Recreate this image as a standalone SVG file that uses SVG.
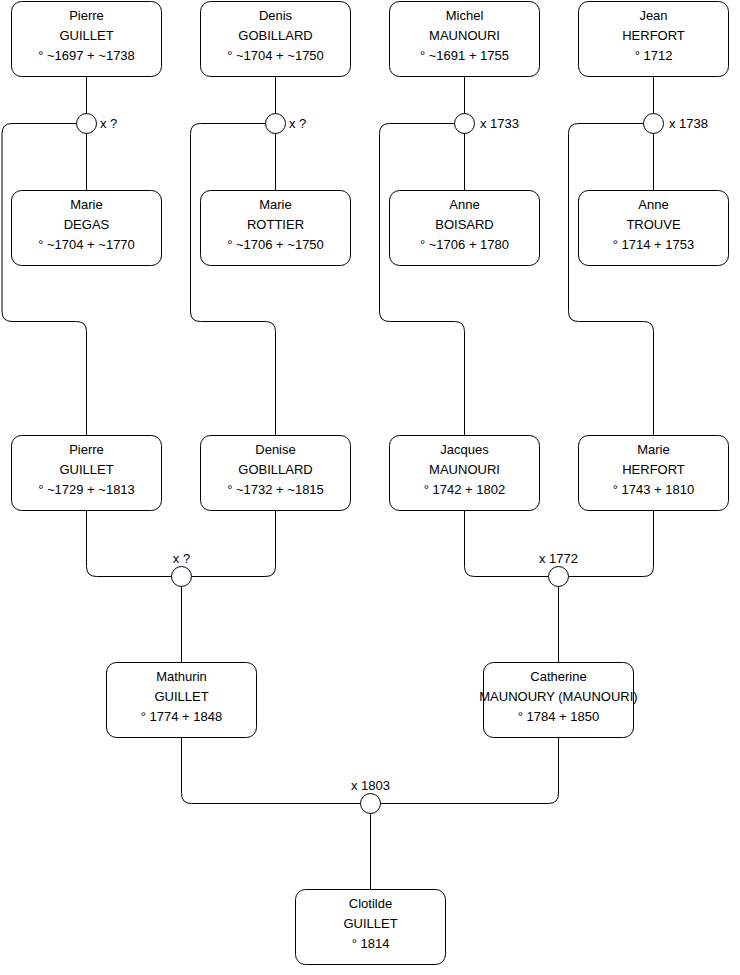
<svg xmlns="http://www.w3.org/2000/svg" width="740" height="975" viewBox="0 0 740 975">
<style>
.n{fill:#fff;stroke:#000;stroke-width:1}
.t{font-family:"Liberation Sans",Arial,sans-serif;font-size:13px;fill:#000;text-anchor:middle}
.l{font-family:"Liberation Sans",Arial,sans-serif;font-size:13px;fill:#000}
.c{fill:none;stroke:#000;stroke-width:1}
.m{fill:#fff;stroke:#000;stroke-width:1}
</style>
<rect width="740" height="975" fill="#fff"/>
<g id="connectors">
<path class="c" d="M86.5,76.5V113.5M86.5,133.5V190.5"/>
<path class="c" d="M76.5,123.5H12Q2,123.5 2,133.5V311.5Q2,321.5 12,321.5H76.5Q86.5,321.5 86.5,331.5V435.5"/>
<path class="c" d="M275.5,76.5V113.5M275.5,133.5V190.5"/>
<path class="c" d="M265.5,123.5H200.5Q190.5,123.5 190.5,133.5V311.5Q190.5,321.5 200.5,321.5H265.5Q275.5,321.5 275.5,331.5V435.5"/>
<path class="c" d="M464.5,76.5V113.5M464.5,133.5V190.5"/>
<path class="c" d="M454.5,123.5H389.5Q379.5,123.5 379.5,133.5V311.5Q379.5,321.5 389.5,321.5H454.5Q464.5,321.5 464.5,331.5V435.5"/>
<path class="c" d="M653.5,76.5V113.5M653.5,133.5V190.5"/>
<path class="c" d="M643.5,123.5H578.5Q568.5,123.5 568.5,133.5V311.5Q568.5,321.5 578.5,321.5H643.5Q653.5,321.5 653.5,331.5V435.5"/>
<path class="c" d="M86.5,510.5V566.5Q86.5,576.5 96.5,576.5H171.5M275.5,510.5V566.5Q275.5,576.5 265.5,576.5H191.5M181.5,586.5V662.5"/>
<path class="c" d="M464.5,510.5V566.5Q464.5,576.5 474.5,576.5H548.5M653.5,510.5V566.5Q653.5,576.5 643.5,576.5H568.5M558.5,586.5V662.5"/>
<path class="c" d="M181.5,737.5V793.5Q181.5,803.5 191.5,803.5H360.5M558.5,737.5V793.5Q558.5,803.5 548.5,803.5H380.5M370.5,813.5V889.5"/>
</g>
<g id="unions">
<circle class="m" cx="86.5" cy="123.5" r="10"/><text class="l" x="100" y="128">x ?</text>
<circle class="m" cx="275.5" cy="123.5" r="10"/><text class="l" x="289" y="128">x ?</text>
<circle class="m" cx="464.5" cy="123.5" r="10"/><text class="l" x="480" y="128">x 1733</text>
<circle class="m" cx="653.5" cy="123.5" r="10"/><text class="l" x="669" y="128">x 1738</text>
<circle class="m" cx="181.5" cy="576.5" r="10"/><text class="t" x="181.5" y="563">x ?</text>
<circle class="m" cx="558.5" cy="576.5" r="10"/><text class="t" x="558.5" y="563">x 1772</text>
<circle class="m" cx="370.5" cy="803.5" r="10"/><text class="t" x="370.5" y="790">x 1803</text>
</g>
<g id="n1"><rect class="n" x="11.5" y="1.5" width="150" height="75" rx="10"/><text class="t" x="86.5" y="20">Pierre</text><text class="t" x="86.5" y="40">GUILLET</text><text class="t" x="86.5" y="60">° ~1697 + ~1738</text></g>
<g id="n2"><rect class="n" x="200.5" y="1.5" width="150" height="75" rx="10"/><text class="t" x="275.5" y="20">Denis</text><text class="t" x="275.5" y="40">GOBILLARD</text><text class="t" x="275.5" y="60">° ~1704 + ~1750</text></g>
<g id="n3"><rect class="n" x="389.5" y="1.5" width="150" height="75" rx="10"/><text class="t" x="464.5" y="20">Michel</text><text class="t" x="464.5" y="40">MAUNOURI</text><text class="t" x="464.5" y="60">° ~1691 + 1755</text></g>
<g id="n4"><rect class="n" x="578.5" y="1.5" width="150" height="75" rx="10"/><text class="t" x="653.5" y="20">Jean</text><text class="t" x="653.5" y="40">HERFORT</text><text class="t" x="653.5" y="60">° 1712</text></g>
<g id="n5"><rect class="n" x="11.5" y="190.5" width="150" height="75" rx="10"/><text class="t" x="86.5" y="209">Marie</text><text class="t" x="86.5" y="229">DEGAS</text><text class="t" x="86.5" y="249">° ~1704 + ~1770</text></g>
<g id="n6"><rect class="n" x="200.5" y="190.5" width="150" height="75" rx="10"/><text class="t" x="275.5" y="209">Marie</text><text class="t" x="275.5" y="229">ROTTIER</text><text class="t" x="275.5" y="249">° ~1706 + ~1750</text></g>
<g id="n7"><rect class="n" x="389.5" y="190.5" width="150" height="75" rx="10"/><text class="t" x="464.5" y="209">Anne</text><text class="t" x="464.5" y="229">BOISARD</text><text class="t" x="464.5" y="249">° ~1706 + 1780</text></g>
<g id="n8"><rect class="n" x="578.5" y="190.5" width="150" height="75" rx="10"/><text class="t" x="653.5" y="209">Anne</text><text class="t" x="653.5" y="229">TROUVE</text><text class="t" x="653.5" y="249">° 1714 + 1753</text></g>
<g id="n9"><rect class="n" x="11.5" y="435.5" width="150" height="75" rx="10"/><text class="t" x="86.5" y="454">Pierre</text><text class="t" x="86.5" y="474">GUILLET</text><text class="t" x="86.5" y="494">° ~1729 + ~1813</text></g>
<g id="n10"><rect class="n" x="200.5" y="435.5" width="150" height="75" rx="10"/><text class="t" x="275.5" y="454">Denise</text><text class="t" x="275.5" y="474">GOBILLARD</text><text class="t" x="275.5" y="494">° ~1732 + ~1815</text></g>
<g id="n11"><rect class="n" x="389.5" y="435.5" width="150" height="75" rx="10"/><text class="t" x="464.5" y="454">Jacques</text><text class="t" x="464.5" y="474">MAUNOURI</text><text class="t" x="464.5" y="494">° 1742 + 1802</text></g>
<g id="n12"><rect class="n" x="578.5" y="435.5" width="150" height="75" rx="10"/><text class="t" x="653.5" y="454">Marie</text><text class="t" x="653.5" y="474">HERFORT</text><text class="t" x="653.5" y="494">° 1743 + 1810</text></g>
<g id="n13"><rect class="n" x="106.5" y="662.5" width="150" height="75" rx="10"/><text class="t" x="181.5" y="681">Mathurin</text><text class="t" x="181.5" y="701">GUILLET</text><text class="t" x="181.5" y="721">° 1774 + 1848</text></g>
<g id="n14"><rect class="n" x="483.5" y="662.5" width="150" height="75" rx="10"/><text class="t" x="558.5" y="681">Catherine</text><text class="t" x="558.5" y="701">MAUNOURY (MAUNOURI)</text><text class="t" x="558.5" y="721">° 1784 + 1850</text></g>
<g id="n15"><rect class="n" x="295.5" y="889.5" width="150" height="75" rx="10"/><text class="t" x="370.5" y="908">Clotilde</text><text class="t" x="370.5" y="928">GUILLET</text><text class="t" x="370.5" y="948">° 1814</text></g>
</svg>
